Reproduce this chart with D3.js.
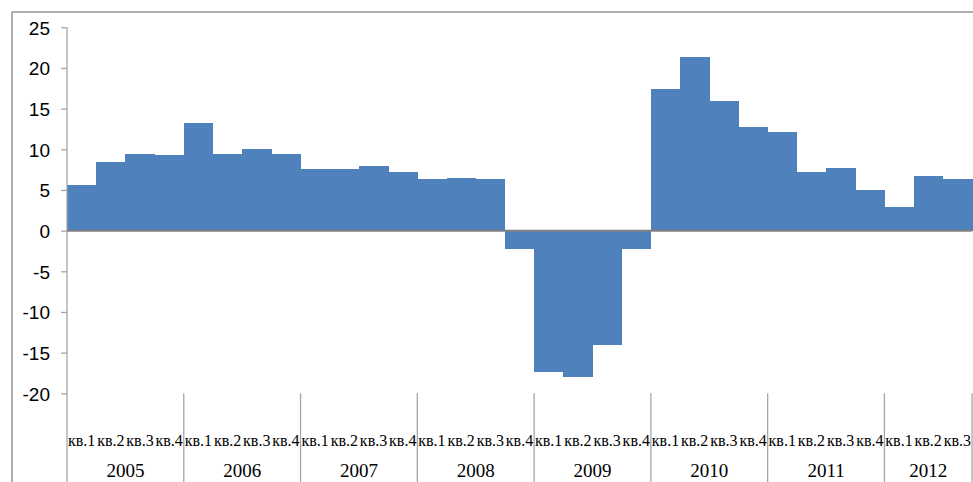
<!DOCTYPE html>
<html>
<head>
<meta charset="utf-8">
<script src="https://cdn.jsdelivr.net/npm/d3@7"></script>
<style>
  body { margin: 0; background: #fff; }
  svg { display: block; }
  .y-axis text { font-family: "Liberation Sans", Arial, sans-serif; font-size: 19px; fill: #000; }
  .q-label { font-family: "Liberation Serif", "Times New Roman", serif; font-size: 16px; fill: #000; }
  .yr-label { font-family: "Liberation Serif", "Times New Roman", serif; font-size: 19px; fill: #000; }
</style>
</head>
<body>
<div id="chart"></div>
<script>
var years = ["2005", "2006", "2007", "2008", "2009", "2010", "2011", "2012"];
var quarters = ["кв.1", "кв.2", "кв.3", "кв.4"];
var yTicks = [-20, -15, -10, -5, 0, 5, 10, 15, 20, 25];
var values = [
  5.6, 8.4, 9.4, 9.3,
  13.2, 9.4, 10.0, 9.4,
  7.6, 7.6, 7.9, 7.2,
  6.3, 6.5, 6.3, -2.3,
  -17.4, -18.0, -14.1, -2.3,
  17.4, 21.4, 15.9, 12.7,
  12.1, 7.2, 7.7, 5.0,
  2.9, 6.7, 6.4
];

var width = 973, height = 482;
var plotLeft = 67, plotRight = 972, plotTop = 27.3, plotBottom = 393.3;
var gray = "#a6a6a6";

var svg = d3.select("#chart").append("svg")
    .attr("width", width)
    .attr("height", height);

// outer frame
svg.append("rect")
    .attr("x", 12).attr("y", 12)
    .attr("width", 1000).attr("height", 520)
    .attr("fill", "none")
    .attr("stroke", "#868686")
    .attr("stroke-width", 1.3);

var x = d3.scaleBand()
    .domain(d3.range(values.length))
    .range([plotLeft, plotRight])
    .padding(0);

var y = d3.scaleLinear()
    .domain([-20, 25])
    .range([plotBottom, plotTop]);

svg.append("g")
    .attr("shape-rendering", "crispEdges")
  .selectAll(".bar")
    .data(values)
  .enter().append("rect")
    .attr("class", "bar")
    .attr("x", function(d, i){ return x(i); })
    .attr("width", x.bandwidth() + 0.5)
    .attr("y", function(d){ return y(Math.max(0, d)); })
    .attr("height", function(d){ return Math.abs(y(d) - y(0)); })
    .attr("fill", "#4f81bd");

// y axis
var yAxis = svg.append("g")
    .attr("class", "y-axis")
    .attr("transform", "translate(" + plotLeft + ",0)")
    .call(d3.axisLeft(y).tickValues(yTicks).tickSize(6).tickSizeOuter(0).tickPadding(11)
      .tickFormat(function(d){ return String(d); }));

yAxis.select(".domain").remove();
yAxis.selectAll(".tick line").attr("stroke", gray).attr("stroke-width", 1.3);
yAxis.selectAll(".tick text").attr("dy", "0.36em");

svg.append("line")
    .attr("x1", plotLeft).attr("x2", plotLeft)
    .attr("y1", plotTop).attr("y2", height)
    .attr("stroke", gray).attr("stroke-width", 1.3);

// zero line
svg.append("line")
    .attr("x1", plotLeft).attr("x2", plotRight)
    .attr("y1", y(0)).attr("y2", y(0))
    .attr("stroke", "#808080").attr("stroke-width", 2);

// year separators
var bounds = years.map(function(yr, i){
  return Math.min((i + 1) * 4, values.length);
});
svg.selectAll(".sep")
    .data(bounds)
  .enter().append("line")
    .attr("class", "sep")
    .attr("x1", function(d){ return d >= values.length ? plotRight : x(d); })
    .attr("x2", function(d){ return d >= values.length ? plotRight : x(d); })
    .attr("y1", plotBottom).attr("y2", height)
    .attr("stroke", gray).attr("stroke-width", 1.3);

// quarter labels
svg.selectAll(".q-label")
    .data(values)
  .enter().append("text")
    .attr("class", "q-label")
    .attr("x", function(d, i){ return x(i) + x.bandwidth() / 2; })
    .attr("y", 446)
    .attr("text-anchor", "middle")
    .text(function(d, i){ return quarters[i % 4]; });

// year labels
svg.selectAll(".yr-label")
    .data(years)
  .enter().append("text")
    .attr("class", "yr-label")
    .attr("x", function(d, i){
      var s = x(i * 4);
      var e = (i + 1) * 4 >= values.length ? plotRight : x((i + 1) * 4);
      return (s + e) / 2;
    })
    .attr("y", 477)
    .attr("text-anchor", "middle")
    .text(function(d){ return d; });
</script>
</body>
</html>
